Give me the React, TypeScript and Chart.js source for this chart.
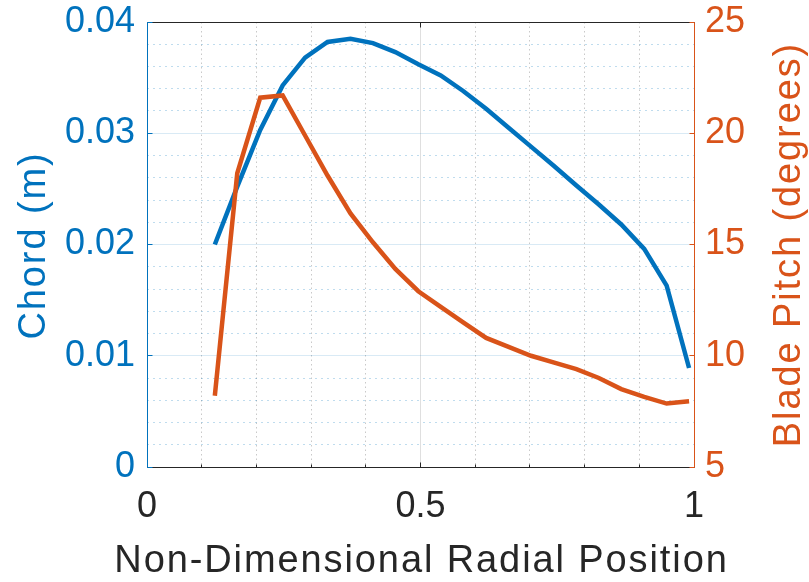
import React, { useEffect, useRef } from 'react';
import { Chart, registerables } from 'chart.js';

Chart.register(...registerables);

// Blade geometry along the span
const radialPosition = [
  0.124, 0.165, 0.207, 0.248, 0.289, 0.330, 0.372, 0.413, 0.454, 0.496, 0.537,
  0.578, 0.620, 0.661, 0.702, 0.743, 0.785, 0.826, 0.867, 0.909, 0.950, 0.991,
];
const chordMeters = [
  0.0200, 0.0252, 0.0303, 0.0343, 0.0368, 0.0382, 0.0385, 0.0381, 0.0373, 0.0362, 0.0352,
  0.0338, 0.0322, 0.0305, 0.0288, 0.0271, 0.0253, 0.0236, 0.0218, 0.0196, 0.0163, 0.0089,
];
const bladePitchDeg = [
  8.2, 18.2, 21.6, 21.7, 19.9, 18.1, 16.4, 15.1, 13.9, 12.9, 12.2,
  11.5, 10.8, 10.4, 10.0, 9.7, 9.4, 9.0, 8.5, 8.15, 7.85, 7.95,
];

// Axis ticks
const xTicks = [0, 0.5, 1];
const xMinorTicks = [0.1, 0.2, 0.3, 0.4, 0.6, 0.7, 0.8, 0.9];
const chordTicks = [0, 0.01, 0.02, 0.03, 0.04];
const chordMinorTicks = [
  0.002, 0.004, 0.006, 0.008, 0.012, 0.014, 0.016, 0.018, 0.022, 0.024,
  0.026, 0.028, 0.032, 0.034, 0.036, 0.038,
];
const pitchTicks = [5, 10, 15, 20, 25];

const xTitle = 'Non-Dimensional Radial Position';
const chordTitle = 'Chord (m)';
const pitchTitle = 'Blade Pitch (degrees)';

const BLUE = '#0072BD';
const ORANGE = '#D95319';
const DARK = '#262626';
const FONT = '"Liberation Sans", Arial, Helvetica, sans-serif';

const crisp = (v: number) => Math.floor(v) + 0.5;

const framePlugin = {
  id: 'matlabFrame',
  beforeDatasetsDraw(chart: any) {
    const { ctx, chartArea: a, scales } = chart;
    const sx = scales.x;
    const sy = scales.y;
    const L = crisp(a.left);
    const R = crisp(a.right);
    const T = crisp(a.top);
    const B = crisp(a.bottom);
    const seg = (x1: number, y1: number, x2: number, y2: number) => {
      ctx.beginPath();
      ctx.moveTo(x1, y1);
      ctx.lineTo(x2, y2);
      ctx.stroke();
    };
    ctx.save();
    ctx.lineWidth = 1;

    // minor grid
    ctx.setLineDash([1.5, 3]);
    ctx.strokeStyle = 'rgba(38,38,38,0.25)';
    xMinorTicks.forEach((v) => {
      const p = crisp(sx.getPixelForValue(v));
      seg(p, a.top, p, a.bottom);
    });
    ctx.setLineDash([2, 4]);
    ctx.strokeStyle = 'rgba(0,114,189,0.25)';
    chordMinorTicks.forEach((v) => {
      const p = crisp(sy.getPixelForValue(v));
      seg(a.left, p, a.right, p);
    });

    // major grid
    ctx.setLineDash([]);
    ctx.strokeStyle = 'rgba(38,38,38,0.15)';
    xTicks.slice(1, -1).forEach((v) => {
      const p = crisp(sx.getPixelForValue(v));
      seg(p, a.top, p, a.bottom);
    });
    ctx.strokeStyle = 'rgba(0,114,189,0.15)';
    chordTicks.slice(1, -1).forEach((v) => {
      const p = crisp(sy.getPixelForValue(v));
      seg(a.left, p, a.right, p);
    });

    // box
    ctx.strokeStyle = DARK;
    seg(L, T, R, T);
    seg(L, B, R, B);
    xTicks.forEach((v) => {
      const p = crisp(sx.getPixelForValue(v));
      seg(p, B, p, B - 5);
      seg(p, T, p, T + 5);
    });
    xMinorTicks.forEach((v) => {
      const p = crisp(sx.getPixelForValue(v));
      seg(p, B, p, B - 3);
    });
    ctx.strokeStyle = BLUE;
    seg(L, T, L, B);
    chordTicks.forEach((v) => {
      const p = crisp(sy.getPixelForValue(v));
      seg(L, p, L + 5, p);
    });
    ctx.strokeStyle = ORANGE;
    seg(R, T, R, B);
    pitchTicks.forEach((v) => {
      const p = crisp(scales.y1.getPixelForValue(v));
      seg(R, p, R - 5, p);
    });
    ctx.restore();
  },
  afterDraw(chart: any) {
    const { ctx, chartArea: a } = chart;
    const cx = (a.left + a.right) / 2;
    const cy = (a.top + a.bottom) / 2;
    ctx.save();
    ctx.font = `38px ${FONT}`;
    (ctx as any).letterSpacing = '1.9px';
    ctx.textAlign = 'center';
    ctx.textBaseline = 'alphabetic';

    ctx.fillStyle = DARK;
    ctx.fillText(xTitle, cx + 1, 572);

    ctx.save();
    ctx.translate(45, cy + 1);
    ctx.rotate(-Math.PI / 2);
    ctx.fillStyle = BLUE;
    ctx.fillText(chordTitle, 0, 0);
    ctx.restore();

    ctx.save();
    ctx.translate(800, cy);
    ctx.rotate(-Math.PI / 2);
    ctx.fillStyle = ORANGE;
    ctx.fillText(pitchTitle, 0, 0);
    ctx.restore();

    ctx.restore();
  },
};

const tickFont = { family: FONT, size: 36 };
const fixedTicks = (values: number[]) => (scale: any) => {
  scale.ticks = values.map((value) => ({ value }));
};
const fitBox = (size: { width?: number; height?: number }) => (s: any) => {
  if (size.width !== undefined) s.width = size.width;
  if (size.height !== undefined) s.height = size.height;
  s.paddingTop = 0;
  s.paddingBottom = 0;
  s.paddingLeft = 0;
  s.paddingRight = 0;
};

export default function App() {
  const canvasRef = useRef<HTMLCanvasElement | null>(null);

  useEffect(() => {
    const canvas = canvasRef.current;
    if (!canvas) return;
    const chart = new Chart(canvas, {
      type: 'line',
      data: {
        datasets: [
          {
            label: pitchTitle,
            data: radialPosition.map((r, i) => ({ x: r, y: bladePitchDeg[i] })),
            yAxisID: 'y1',
            borderColor: ORANGE,
            backgroundColor: ORANGE,
            borderWidth: 4.5,
            pointRadius: 0,
            tension: 0,
            borderJoinStyle: 'miter',
            order: 0,
          },
          {
            label: chordTitle,
            data: radialPosition.map((r, i) => ({ x: r, y: chordMeters[i] })),
            yAxisID: 'y',
            borderColor: BLUE,
            backgroundColor: BLUE,
            borderWidth: 4.5,
            pointRadius: 0,
            tension: 0,
            borderJoinStyle: 'miter',
            order: 1,
          },
        ],
      },
      options: {
        responsive: false,
        animation: false,
        devicePixelRatio: 1,
        layout: { padding: { top: 22, left: 0, right: 0, bottom: 0 } },
        plugins: {
          legend: { display: false },
          tooltip: { enabled: false },
        },
        scales: {
          x: {
            type: 'linear',
            min: 0,
            max: 1,
            afterBuildTicks: fixedTicks(xTicks),
            afterFit: fitBox({ height: 115 }),
            grid: { display: false, drawTicks: false },
            border: { display: false },
            ticks: {
              font: tickFont,
              color: DARK,
              padding: 18,
              autoSkip: false,
              maxRotation: 0,
              callback: (v: any) => String(v),
            },
          },
          y: {
            type: 'linear',
            position: 'left',
            min: 0,
            max: 0.04,
            afterBuildTicks: fixedTicks(chordTicks),
            afterFit: fitBox({ width: 147 }),
            grid: { display: false, drawTicks: false },
            border: { display: false },
            ticks: {
              font: tickFont,
              color: BLUE,
              padding: 12,
              autoSkip: false,
              callback: (v: any) => String(v),
            },
          },
          y1: {
            type: 'linear',
            position: 'right',
            min: 5,
            max: 25,
            afterBuildTicks: fixedTicks(pitchTicks),
            afterFit: fitBox({ width: 115 }),
            grid: { display: false, drawTicks: false },
            border: { display: false },
            ticks: {
              font: tickFont,
              color: ORANGE,
              padding: 11,
              autoSkip: false,
              callback: (v: any) => String(v),
            },
          },
        },
      },
      plugins: [framePlugin],
    } as any);
    return () => chart.destroy();
  }, []);

  return (
    <div style={{ position: 'absolute', left: 0, top: 0, width: 809, height: 582, background: '#fff' }}>
      <canvas ref={canvasRef} width={809} height={582} style={{ display: 'block' }} />
    </div>
  );
}
